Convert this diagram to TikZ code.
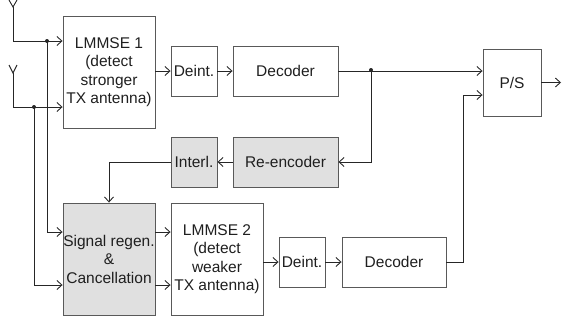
\documentclass[tikz,border=0pt]{standalone}
\usepackage{fontspec}
\setmainfont{Liberation Sans}
\usetikzlibrary{arrows.meta}
\begin{document}
\begin{tikzpicture}[x=1pt,y=-1pt,
  blk/.style={draw=black!65, line width=0.9pt, rectangle, inner sep=0pt, align=center,
    text=black!88, font=\fontsize{15.5}{18.5}\selectfont},
  grayblk/.style={blk, fill=black!12},
  conn/.style={draw=black!85, line width=0.9pt},
  arr/.style={conn, -{Straight Barb[length=5pt,width=9pt,line width=0.9pt]}},
  jdot/.style={circle, fill=black!85, inner sep=0pt, minimum size=4pt}]
\useasboundingbox (0,0) rectangle (562,322);
% blocks
\node[blk, minimum width=92pt, minimum height=112pt] (L1) at (109,72) {LMMSE 1\\(detect\\stronger\\TX antenna)};
\node[grayblk, minimum width=92pt, minimum height=112pt] (Sig) at (109,259) {Signal regen.\\\&\\Cancellation};
\node[blk, minimum width=92pt, minimum height=112pt] (L2) at (217,259) {LMMSE 2\\(detect\\weaker\\TX antenna)};
\node[blk, minimum width=46pt, minimum height=50pt] (D1) at (194,71) {Deint.};
\node[blk, minimum width=105pt, minimum height=50pt] (Dec1) at (285.5,71) {Decoder};
\node[grayblk, minimum width=46pt, minimum height=50pt] (Int) at (194,162) {Interl.};
\node[grayblk, minimum width=105pt, minimum height=50pt] (Re) at (285.5,162) {Re-encoder};
\node[blk, minimum width=46pt, minimum height=50pt] (D2) at (302,262) {Deint.};
\node[blk, minimum width=104pt, minimum height=50pt] (Dec2) at (394,262) {Decoder};
\node[blk, minimum width=58pt, minimum height=67pt] (PS) at (512,82.5) {P/S};
% antennas
\coordinate (a1) at (13,7);
\coordinate (a2) at (13,73);
\draw[conn] (9,0) -- (a1) -- (17,0);
\draw[conn] (9,65) -- (a2) -- (17,65);
\coordinate (j1) at (47,41);
\coordinate (j2) at (34,107);
\coordinate (j3) at (371,70);
\coordinate (j4) at (463,262);
\coordinate (out) at (561,82.5);
\draw[arr] (a1) |- ([yshift=31pt]L1.west);
\draw[arr] (a2) |- ([yshift=-35pt]L1.west);
\draw[arr] (j1) |- ([yshift=27pt]Sig.west);
\draw[arr] (j2) |- ([yshift=-26pt]Sig.west);
\node[jdot] at (j1) {};
\node[jdot] at (j2) {};
\draw[arr] ([yshift=27pt]Sig.east) -- ([yshift=27pt]L2.west);
\draw[arr] ([yshift=-26pt]Sig.east) -- ([yshift=-26pt]L2.west);
\draw[arr] (L1.east |- D1.west) -- (D1.west);
\draw[arr] (D1) -- (Dec1);
\draw[arr] (Dec1.east) -- (PS.west |- Dec1.east);
\draw[arr] (j3) |- (Re.east);
\node[jdot] at (j3) {};
\draw[arr] (Re) -- (Int);
\draw[arr] (Int.west) -| (Sig.north);
\draw[arr] (L2.east |- D2.west) -- (D2.west);
\draw[arr] (D2) -- (Dec2);
\draw[arr] (Dec2.east) -- (j4) |- ([yshift=-12.5pt]PS.west);
\draw[arr] (PS.east) -- (out);
\end{tikzpicture}
\end{document}
